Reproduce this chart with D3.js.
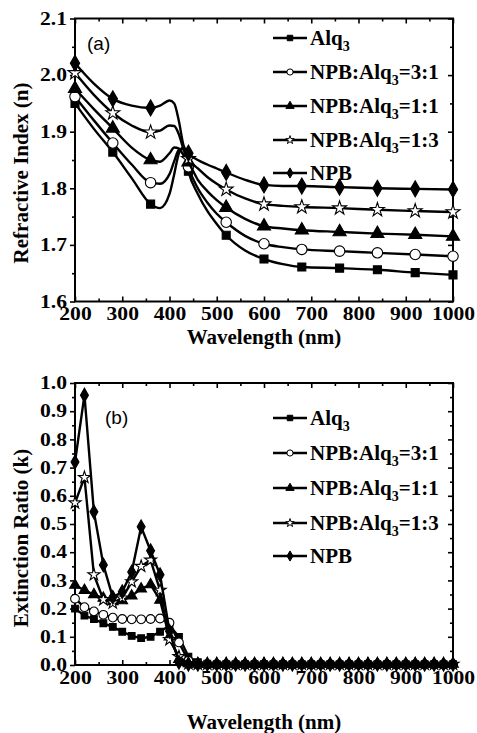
<!DOCTYPE html>
<html>
<head>
<meta charset="utf-8">
<script src="https://cdn.jsdelivr.net/npm/d3@7"></script>
<style>
  body { margin: 0; background: #fff; }
  .tick text, .lbl { font-family: "Liberation Serif", "Times New Roman", serif; font-weight: bold; }
</style>
</head>
<body>
<div id="chart"></div>
<script>
// series names, "_" marks the subscript digit
var seriesNames = ["Alq_3", "NPB:Alq_3=3:1", "NPB:Alq_3=1:1", "NPB:Alq_3=1:3", "NPB"];

// (a) refractive index n, smooth curves, markers every 80 nm
var nWave = [200, 240, 280, 320, 360, 380, 400, 410, 420, 430, 440, 460, 480, 500, 520, 560, 600, 640, 680, 760, 840, 920, 1000];
var nAlq3 = [1.950, 1.905, 1.864, 1.818, 1.772, 1.765, 1.790, 1.825, 1.862, 1.872, 1.830, 1.790, 1.760, 1.737, 1.717, 1.690, 1.675, 1.666, 1.661, 1.659, 1.656, 1.651, 1.647];
var n31   = [1.962, 1.920, 1.880, 1.842, 1.810, 1.808, 1.825, 1.848, 1.868, 1.870, 1.838, 1.800, 1.775, 1.755, 1.740, 1.716, 1.702, 1.696, 1.692, 1.689, 1.686, 1.683, 1.680];
var n11   = [1.976, 1.940, 1.906, 1.872, 1.850, 1.847, 1.862, 1.872, 1.870, 1.858, 1.846, 1.815, 1.795, 1.779, 1.766, 1.746, 1.733, 1.729, 1.726, 1.723, 1.720, 1.718, 1.715];
var n13   = [2.004, 1.965, 1.933, 1.911, 1.899, 1.902, 1.911, 1.910, 1.895, 1.868, 1.852, 1.835, 1.820, 1.808, 1.798, 1.782, 1.772, 1.769, 1.767, 1.765, 1.762, 1.760, 1.758];
var nNPB  = [2.021, 1.985, 1.958, 1.946, 1.942, 1.946, 1.955, 1.950, 1.918, 1.875, 1.862, 1.850, 1.842, 1.835, 1.828, 1.815, 1.806, 1.804, 1.804, 1.802, 1.800, 1.799, 1.798];

// (b) extinction ratio k, every 20 nm
var kWave = [200, 220, 240, 260, 280, 300, 320, 340, 360, 380, 400, 420, 440, 460, 480, 500, 520, 540, 560, 580, 600,
             620, 640, 660, 680, 700, 720, 740, 760, 780, 800, 820, 840, 860, 880, 900, 920, 940, 960, 980, 1000];
var kAlq3 = [0.200, 0.175, 0.163, 0.148, 0.135, 0.118, 0.103, 0.095, 0.100, 0.118, 0.140, 0.100, 0.030, 0.010, 0.005, 0.003, 0.003, 0.003, 0.003, 0.003, 0.003,
             0.003, 0.003, 0.003, 0.003, 0.003, 0.003, 0.003, 0.003, 0.003, 0.003, 0.003, 0.003, 0.003, 0.003, 0.003, 0.003, 0.003, 0.003, 0.003, 0.003];
var k31   = [0.235, 0.205, 0.190, 0.178, 0.168, 0.163, 0.162, 0.162, 0.163, 0.165, 0.150, 0.080, 0.015, 0.005, 0.003, 0.003, 0.003, 0.003, 0.003, 0.003, 0.003,
             0.003, 0.003, 0.003, 0.003, 0.003, 0.003, 0.003, 0.003, 0.003, 0.003, 0.003, 0.003, 0.003, 0.003, 0.003, 0.003, 0.003, 0.003, 0.003, 0.003];
var k11   = [0.283, 0.265, 0.250, 0.237, 0.225, 0.228, 0.245, 0.270, 0.285, 0.230, 0.100, 0.020, 0.005, 0.003, 0.003, 0.003, 0.003, 0.003, 0.003, 0.003, 0.003,
             0.003, 0.003, 0.003, 0.003, 0.003, 0.003, 0.003, 0.003, 0.003, 0.003, 0.003, 0.003, 0.003, 0.003, 0.003, 0.003, 0.003, 0.003, 0.003, 0.003];
var k13   = [0.575, 0.665, 0.320, 0.232, 0.220, 0.238, 0.295, 0.350, 0.372, 0.265, 0.090, 0.030, 0.005, 0.003, 0.003, 0.003, 0.003, 0.003, 0.003, 0.003, 0.003,
             0.003, 0.003, 0.003, 0.003, 0.003, 0.003, 0.003, 0.003, 0.003, 0.003, 0.003, 0.003, 0.003, 0.003, 0.003, 0.003, 0.003, 0.003, 0.003, 0.003];
var kNPB  = [0.720, 0.957, 0.543, 0.355, 0.240, 0.260, 0.330, 0.490, 0.405, 0.320, 0.120, 0.010, 0.003, 0.003, 0.003, 0.003, 0.003, 0.003, 0.003, 0.003, 0.003,
             0.003, 0.003, 0.003, 0.003, 0.003, 0.003, 0.003, 0.003, 0.003, 0.003, 0.003, 0.003, 0.003, 0.003, 0.003, 0.003, 0.003, 0.003, 0.003, 0.003];

var xTicks = [200, 300, 400, 500, 600, 700, 800, 900, 1000];
var xMinor = [250, 350, 450, 550, 650, 750, 850, 950];
var nTicks = [1.6, 1.7, 1.8, 1.9, 2.0, 2.1];
var kTicks = [0.0, 0.1, 0.2, 0.3, 0.4, 0.5, 0.6, 0.7, 0.8, 0.9, 1.0];

var symbols = [d3.symbolSquare, d3.symbolCircle, d3.symbolTriangle, d3.symbolStar, d3.symbolDiamond];
var fills = ["#000", "#fff", "#000", "#fff", "#000"];

var W = 477, H = 733;
var svg = d3.select("#chart").append("svg").attr("width", W).attr("height", H);

function drawPanel(p) {
  var x = d3.scaleLinear().domain([200, 1000]).range([75, 453]);
  var y = d3.scaleLinear().domain(p.yDomain).range([p.bottom, p.top]);
  var g = svg.append("g");
  var yMinor = d3.range(p.yDomain[0] + p.yStep / 2, p.yDomain[1], p.yStep);

  // axes
  var bx = g.append("g").attr("transform", "translate(0," + p.bottom + ")")
    .call(d3.axisBottom(x).tickValues(xTicks).tickSize(-5).tickPadding(6).tickFormat(d3.format("d")));
  g.append("g").attr("transform", "translate(0," + p.bottom + ")")
    .call(d3.axisBottom(x).tickValues(xMinor).tickSize(-3).tickFormat(""));
  g.append("g").attr("transform", "translate(0," + p.top + ")")
    .call(d3.axisTop(x).tickValues(xTicks).tickSize(-5).tickFormat(""));
  g.append("g").attr("transform", "translate(0," + p.top + ")")
    .call(d3.axisTop(x).tickValues(xMinor).tickSize(-3).tickFormat(""));
  var ly = g.append("g").attr("transform", "translate(75,0)")
    .call(d3.axisLeft(y).tickValues(p.yTicks).tickSize(5).tickPadding(3).tickFormat(d3.format(".1f")));
  g.append("g").attr("transform", "translate(75,0)")
    .call(d3.axisLeft(y).tickValues(yMinor).tickSize(3).tickFormat(""));
  g.append("g").attr("transform", "translate(453,0)")
    .call(d3.axisRight(y).tickValues(p.yTicks).tickSize(-5).tickFormat(""));
  g.append("g").attr("transform", "translate(453,0)")
    .call(d3.axisRight(y).tickValues(yMinor).tickSize(-3).tickFormat(""));

  g.selectAll(".domain").remove();
  g.selectAll(".tick line").attr("stroke", "#000").attr("stroke-width", 1.6);
  g.selectAll(".tick text").attr("font-size", 18).attr("fill", "#000");
  bx.selectAll(".tick text").attr("transform", "scale(1.2,1)");
  ly.selectAll(".tick text").attr("x", -8 / 1.2).attr("transform", "scale(1.2,1)");

  g.append("rect").attr("x", 75).attr("y", p.top).attr("width", 378).attr("height", p.bottom - p.top)
    .attr("fill", "none").attr("stroke", "#000").attr("stroke-width", 2);

  // series
  var line = d3.line().curve(p.curve).x(function (d) { return x(d[0]); }).y(function (d) { return y(d[1]); });
  p.series.forEach(function (vals, i) {
    var pts = p.wave.map(function (w, j) { return [w, vals[j]]; });
    g.append("path").datum(pts).attr("d", line)
      .attr("fill", "none").attr("stroke", "#000").attr("stroke-width", 2.4).attr("stroke-linejoin", "round");
    var mk = pts.filter(function (d) { return p.markAt(d[0]); });
    g.selectAll(null).data(mk).enter().append("path")
      .attr("transform", function (d) { return "translate(" + x(d[0]) + "," + y(d[1]) + ")"; })
      .attr("d", d3.symbol().type(symbols[i]).size(p.mSize[i]))
      .attr("fill", fills[i]).attr("stroke", "#000").attr("stroke-width", 1.1);
  });

  // legend
  seriesNames.forEach(function (name, i) {
    var yy = p.legY[i];
    g.append("line").attr("x1", 273).attr("x2", 307).attr("y1", yy).attr("y2", yy)
      .attr("stroke", "#000").attr("stroke-width", 2.4);
    g.append("path").attr("transform", "translate(290," + yy + ")")
      .attr("d", d3.symbol().type(symbols[i]).size(i === 3 ? 22 : 30))
      .attr("fill", fills[i]).attr("stroke", "#000").attr("stroke-width", 1);
    var parts = name.split("_");
    var t = g.append("text").attr("class", "lbl").attr("x", 310).attr("y", yy + 7).attr("font-size", 21);
    t.append("tspan").text(parts[0]);
    if (parts.length > 1) {
      t.append("tspan").attr("font-size", 14).attr("dy", 6).text(parts[1].charAt(0));
      t.append("tspan").attr("dy", -6).text(parts[1].slice(1));
    }
  });

  // panel tag
  g.append("text").attr("x", p.tag[0]).attr("y", p.tag[1])
    .attr("font-family", "'Liberation Sans', Arial, sans-serif").attr("font-size", 19)
    .text(p.tagText);

  // axis titles
  g.append("text").attr("class", "lbl").attr("x", 264).attr("y", p.xTitleY)
    .attr("text-anchor", "middle").attr("font-size", 21).text("Wavelength (nm)");
  g.append("text").attr("class", "lbl")
    .attr("transform", "translate(28," + p.yTitleMid + ") rotate(-90)")
    .attr("text-anchor", "middle").attr("font-size", 21).text(p.yTitle);
}

drawPanel({
  top: 18.5, bottom: 301.5, yDomain: [1.6, 2.1], yStep: 0.1, yTicks: nTicks,
  wave: nWave, series: [nAlq3, n31, n11, n13, nNPB],
  curve: d3.curveMonotoneX,
  markAt: function (w) { return (w - 200) % 80 === 0; },
  mSize: [64, 85, 75, 60, 75],
  legY: [38, 72, 106, 140, 173],
  tag: [87, 50], tagText: "(a)",
  xTitleY: 344, yTitle: "Refractive Index (n)", yTitleMid: 173
});

drawPanel({
  top: 383, bottom: 665, yDomain: [0, 1.0], yStep: 0.1, yTicks: kTicks,
  wave: kWave, series: [kAlq3, k31, k11, k13, kNPB],
  curve: d3.curveLinear,
  markAt: function () { return true; },
  mSize: [45, 60, 50, 45, 55],
  legY: [418, 453, 488, 523, 556],
  tag: [105, 424], tagText: "(b)",
  xTitleY: 729, yTitle: "Extinction Ratio (k)", yTitleMid: 538
});
</script>
</body>
</html>
